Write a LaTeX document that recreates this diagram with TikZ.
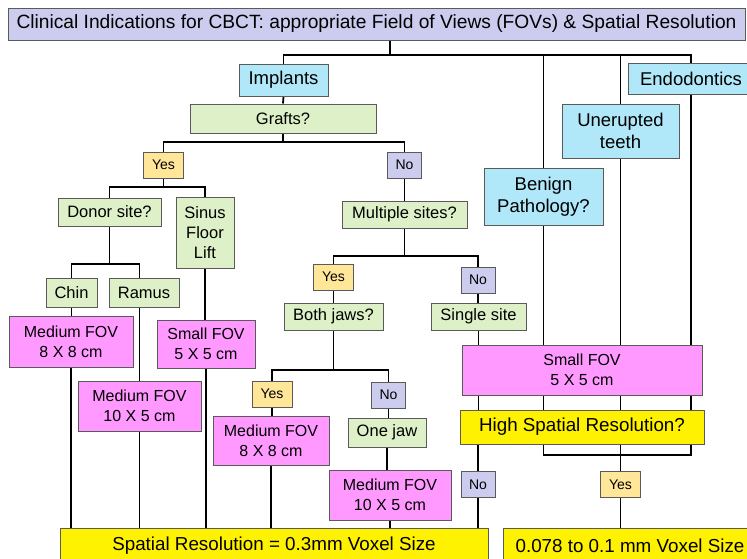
\documentclass[tikz,border=0pt]{standalone}
\usepackage{fontspec}
\setmainfont{Liberation Sans}
\usepackage{xcolor}
\usetikzlibrary{backgrounds}

\definecolor{lavender}{RGB}{204,204,238}
\definecolor{skyblue}{RGB}{176,232,250}
\definecolor{palegreen}{RGB}{221,240,200}
\definecolor{paleorange}{RGB}{255,230,153}
\definecolor{fovpink}{RGB}{255,153,255}
\definecolor{boxgray}{RGB}{90,90,90}

\begin{document}
\begin{tikzpicture}[x=1pt,y=-1pt,
    box/.style={draw=boxgray,line width=1pt,inner sep=0pt,align=center,text=black},
    topic/.style={box,fill=skyblue,font=\fontsize{18.5}{22.5}\selectfont},
    quest/.style={box,fill=palegreen,font=\fontsize{16.5}{20}\selectfont},
    yesbox/.style={box,fill=paleorange,minimum width=40,minimum height=26,font=\fontsize{14}{16}\selectfont},
    nobox/.style={box,fill=lavender,minimum width=34,minimum height=26,font=\fontsize{14}{16}\selectfont},
    fov/.style={box,fill=fovpink,font=\fontsize{16}{20}\selectfont},
    reso/.style={box,fill=yellow,font=\fontsize{18.8}{22}\selectfont},
    link/.style={line width=1.8pt}]
\useasboundingbox (0,0) rectangle (747,558);
\clip (0,0) rectangle (747,558);

% boxes
\node[box,fill=lavender,minimum width=737,minimum height=32,font=\fontsize{19.2}{22}\selectfont] (title) at (376.5,24) {Clinical Indications for CBCT: appropriate Field of Views (FOVs) \& Spatial Resolution};
\node[topic,minimum width=89,minimum height=32] (impl) at (283.5,80) {Implants};
\node[topic,minimum width=126,minimum height=31] (endo) at (691,78.5) {Endodontics};
\node[quest,minimum width=186,minimum height=29] (grafts) at (283,118.5) {Grafts?};
\node[topic,minimum width=117,minimum height=54] (unerupt) at (620.5,131) {Unerupted\\teeth};
\node[yesbox] (yes1) at (163.5,165) {Yes};
\node[nobox] (no1) at (404.5,165) {No};
\node[topic,minimum width=119,minimum height=57] (benign) at (543.5,196.5) {Benign\\Pathology?};
\node[quest,minimum width=103,minimum height=28] (donor) at (109.5,212) {Donor site?};
\node[quest,minimum width=58,minimum height=71] (sinus) at (205,232.5) {Sinus\\Floor\\Lift};
\node[quest,minimum width=125,minimum height=27] (multi) at (404.5,214.5) {Multiple sites?};
\node[yesbox] (yes2) at (333.5,277) {Yes};
\node[nobox] (no2) at (478,280) {No};
\node[quest,minimum width=51,minimum height=29] (chin) at (71.5,292.5) {Chin};
\node[quest,minimum width=70,minimum height=29] (ramus) at (144,292.5) {Ramus};
\node[quest,minimum width=99,minimum height=27] (bothj) at (333.5,316.5) {Both jaws?};
\node[quest,minimum width=95,minimum height=27] (single) at (478.5,316.5) {Single site};
\node[fov,minimum width=124,minimum height=51] (medA) at (71,342) {Medium FOV\\8 X 8 cm};
\node[fov,minimum width=98,minimum height=48] (smallA) at (206,344) {Small FOV\\5 X 5 cm};
\node[fov,minimum width=240,minimum height=50] (smallB) at (582,370) {Small FOV\\5 X 5 cm};
\node[fov,minimum width=123,minimum height=50] (medB) at (139.5,406) {Medium FOV\\10 X 5 cm};
\node[yesbox] (yes3) at (272,394) {Yes};
\node[nobox] (no3) at (388.5,395) {No};
\node[reso,minimum width=244,minimum height=34] (high) at (582,427) {High Spatial Resolution?};
\node[fov,minimum width=116,minimum height=49] (medC) at (271,440.5) {Medium FOV\\8 X 8 cm};
\node[quest,minimum width=78,minimum height=29] (onejaw) at (387,432.5) {One jaw};
\node[fov,minimum width=122,minimum height=50] (medD) at (390,495) {Medium FOV\\10 X 5 cm};
\node[nobox] (no4) at (478,484.5) {No};
\node[yesbox] (yes4) at (620.5,484.5) {Yes};
\node[reso,minimum width=428,minimum height=36] (resL) at (274,546) {Spatial Resolution = 0.3mm Voxel Size};
\node[reso,minimum width=254,minimum height=36] (resR) at (630,546) {0.078 to 0.1 mm Voxel Size};

% bus lines
\coordinate (bus1) at (390,55);
\coordinate (bus2) at (283,142);
\coordinate (bus3) at (160,187);
\coordinate (bus4) at (107,264);
\coordinate (bus5) at (405,256);
\coordinate (bus6) at (334,370);
\coordinate (bus7) at (600,455);

\begin{scope}[on background layer]
\draw[link] (title.south -| bus1) -- (bus1);
\draw[link] (impl.north) |- (endo.north |- bus1) -- (endo.north);
\draw[link] (benign.north) -- (benign.north |- bus1);
\draw[link] (unerupt.north) -- (unerupt.north |- bus1);
\draw[link] (impl.south) -- (grafts.north);
\draw[link] (grafts.south) -- (grafts.south |- bus2);
\draw[link] (yes1.north) |- (no1.north |- bus2) -- (no1.north);
\draw[link] (yes1.south) -- (yes1.south |- bus3);
\draw[link] (donor.north) |- (sinus.north |- bus3) -- (sinus.north);
\draw[link] (donor.south) -- (donor.south |- bus4);
\draw[link] (chin.north) |- (medB.north |- bus4) -- (medB.north);
\draw[link] (chin.south) -- (chin.south |- medA.north);
\draw[link] (medA.south) -- (medA.south |- resL.north);
\draw[link] (medB.south) -- (medB.south |- resL.north);
\draw[link] (sinus.south) -- (sinus.south |- smallA.north);
\draw[link] (smallA.south) -- (smallA.south |- resL.north);
\draw[link] (no1.south) -- (no1.south |- multi.north);
\draw[link] (multi.south) -- (multi.south |- bus5);
\draw[link] (yes2.north) |- (no2.north |- bus5) -- (no2.north);
\draw[link] (yes2.south) -- (yes2.south |- bothj.north);
\draw[link] (no2.south) -- (no2.south |- single.north);
\draw[link] (bothj.south) -- (bothj.south |- bus6);
\draw[link] (yes3.north) |- (no3.north |- bus6) -- (no3.north);
\draw[link] (yes3.south) -- (yes3.south |- medC.north);
\draw[link] (medC.south) -- (medC.south |- resL.north);
\draw[link] (no3.south) -- (no3.south |- onejaw.north);
\draw[link] (onejaw.south) -- (onejaw.south |- medD.north);
\draw[link] (medD.south) -- (medD.south |- resL.north);
\foreach \src in {single,benign,unerupt,endo}{
  \draw[link] (\src.south) -- (\src.south |- smallB.north);
  \draw[link] (smallB.south -| \src) -- (high.north -| \src);
}
\draw[link] (high.south -| no4) -- (no4.north);
\draw[link] (no4.south) -- (no4.south |- resL.north);
\draw[link] (high.south -| benign) |- (bus7) -| (high.south -| endo);
\draw[link] (high.south -| yes4) -- (yes4.north);
\draw[link] (yes4.south) -- (yes4.south |- resR.north);
\end{scope}
\end{tikzpicture}
\end{document}
